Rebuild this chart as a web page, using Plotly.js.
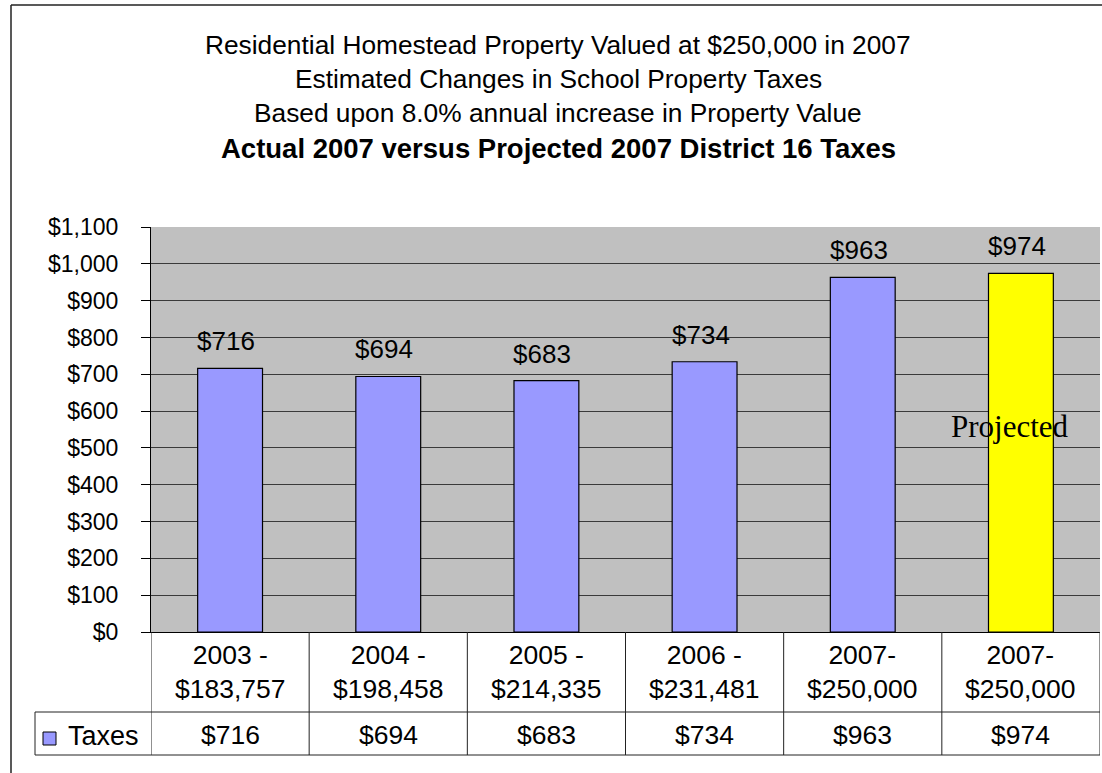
<!DOCTYPE html>
<html><head><meta charset="utf-8">
<script src="https://cdn.plot.ly/plotly-3.0.1.min.js"></script>
<style>body{margin:0;background:#fff}#chart{width:1102px;height:773px}</style>
</head><body><div id="chart"></div>
<script>
const categories = ["2003 -<br>$183,757", "2004 -<br>$198,458", "2005 -<br>$214,335", "2006 -<br>$231,481", "2007-<br>$250,000", "2007-<br>$250,000"];
const taxes = [716, 694, 683, 734, 963, 974];
const valueLabels = ["$716", "$694", "$683", "$734", "$963", "$974"];
const barColors = ["#9999FF", "#9999FF", "#9999FF", "#9999FF", "#9999FF", "#FFFF00"];
const yTickVals = [0, 100, 200, 300, 400, 500, 600, 700, 800, 900, 1000, 1100];
const yTickText = ["$0", "$100", "$200", "$300", "$400", "$500", "$600", "$700", "$800", "$900", "$1,000", "$1,100"];
const seriesName = "Taxes";
const titleLines = [
  "Residential Homestead Property Valued at $250,000 in 2007",
  "Estimated Changes in School Property Taxes",
  "Based upon 8.0% annual increase in Property Value",
  "<b>Actual 2007 versus Projected 2007 District 16 Taxes</b>"
];
const projectedNote = "Projected";
const projectedAt = 557;

// layout geometry (pixels)
const W = 1102, H = 773, L = 151, R = 1100, T = 227, B = 632;
const pw = R - L, ph = B - T;
const px = x => (x - L) / pw;
const py = y => (B - y) / ph;

const idx = categories.map((c, i) => i);
const ann = [];
const shapes = [];
const font = "Liberation Sans, Arial, sans-serif";

// title lines
const titleY = [45, 79.5, 113.5, 148];
const titleSize = [26.3, 26.3, 26.3, 27.5];
titleLines.forEach((t, i) => ann.push({
  text: t, xref: "paper", yref: "paper", x: px(558), y: py(titleY[i]),
  xanchor: "center", yanchor: "middle", showarrow: false,
  font: {family: font, size: titleSize[i], color: "#000"}
}));

// value labels above bars
idx.forEach(i => ann.push({
  text: valueLabels[i], xref: "x", yref: "y", x: i, y: taxes[i],
  xanchor: "center", yanchor: "middle", yshift: 27, xshift: -4, showarrow: false,
  font: {family: font, size: 26, color: "#000"}
}));

// projected note
ann.push({
  text: projectedNote, xref: "x", yref: "y", x: idx[idx.length - 1], y: projectedAt,
  xshift: -11, xanchor: "center", yanchor: "middle", showarrow: false,
  font: {family: "Liberation Serif, Times New Roman, serif", size: 31, color: "#000"}
});

// data table: category row and value row
idx.forEach(i => {
  ann.push({
    text: categories[i], xref: "x", yref: "paper", x: i, y: py(672),
    xanchor: "center", yanchor: "middle", showarrow: false,
    font: {family: font, size: 26.5, color: "#000"}
  });
  ann.push({
    text: valueLabels[i], xref: "x", yref: "paper", x: i, y: py(735),
    xanchor: "center", yanchor: "middle", showarrow: false,
    font: {family: font, size: 26.5, color: "#000"}
  });
});
ann.push({
  text: seriesName, xref: "paper", yref: "paper", x: px(66), y: py(736),
  xanchor: "left", yanchor: "middle", showarrow: false,
  font: {family: font, size: 27, color: "#000"}
});

// outer frame (top and left edges; right and bottom lie outside the picture)
shapes.push({type: "line", xref: "paper", yref: "paper", x0: px(11), x1: px(1102), y0: py(5), y1: py(5),
  line: {color: "#222", width: 1.5}, layer: "below"});
shapes.push({type: "line", xref: "paper", yref: "paper", x0: px(11), x1: px(11), y0: py(5), y1: py(773),
  line: {color: "#222", width: 1.5}, layer: "below"});
// table horizontal lines
[712, 755].forEach(y => shapes.push({type: "line", xref: "paper", yref: "paper", x0: px(35), x1: px(1100), y0: py(y), y1: py(y), line: {color: "#222", width: 1}}));
// legend cell left
shapes.push({type: "line", xref: "paper", yref: "paper", x0: px(35), x1: px(35), y0: py(712), y1: py(755), line: {color: "#222", width: 1}});
// vertical column dividers
for (let k = 0; k <= idx.length; k++) {
  shapes.push({type: "line", xref: "x", yref: "paper", x0: k - 0.5, x1: k - 0.5, y0: py(632), y1: py(755), line: {color: "#222", width: 1}});
}
// legend key
shapes.push({type: "rect", xref: "paper", yref: "paper", x0: px(43), x1: px(56), y0: py(745), y1: py(732),
  fillcolor: barColors[0], line: {color: "#000", width: 1}});

const trace = {
  type: "bar", x: idx, y: taxes, width: 0.41, name: seriesName,
  marker: {color: barColors, line: {color: "#000", width: 1.2}},
  hoverinfo: "skip"
};

const layout = {
  width: W, height: H, showlegend: false,
  margin: {l: L, r: W - R, t: T, b: H - B, pad: 0},
  paper_bgcolor: "#fff", plot_bgcolor: "#C0C0C0",
  xaxis: {range: [-0.5, idx.length - 0.5], showticklabels: false, ticks: "", showgrid: false, zeroline: false,
    showline: true, linecolor: "#000", linewidth: 1, mirror: false, fixedrange: true},
  yaxis: {range: [0, 1100], tickvals: yTickVals, ticktext: yTickText, ticks: "outside", ticklen: 9, tickcolor: "#000",
    ticklabelstandoff: 18,
    showgrid: true, gridcolor: "#3a3a3a", gridwidth: 1, zeroline: false,
    showline: true, linecolor: "#000", linewidth: 1,
    tickfont: {family: font, size: 23, color: "#000"}, fixedrange: true},
  annotations: ann, shapes: shapes
};

Plotly.newPlot("chart", [trace], layout, {displayModeBar: false, staticPlot: true});
</script></body></html>
